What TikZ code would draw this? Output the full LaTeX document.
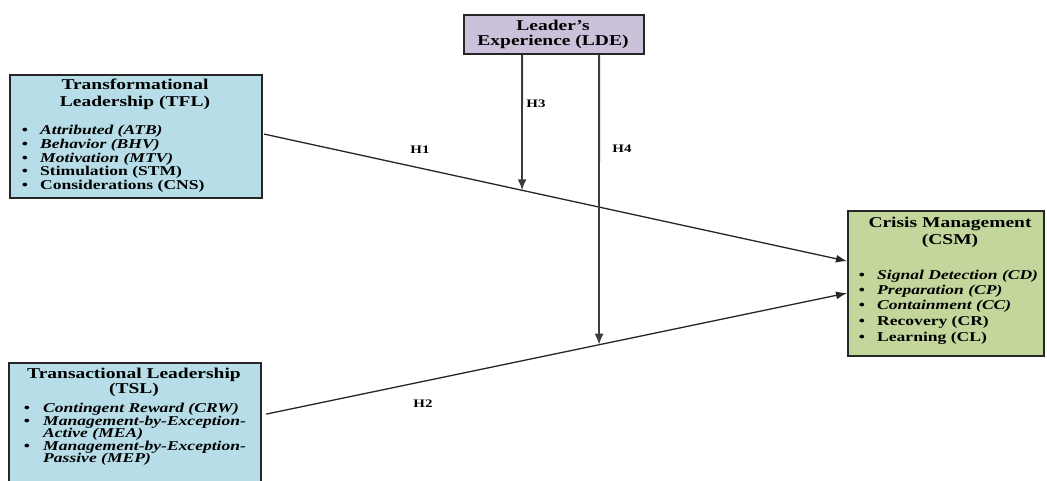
\documentclass[tikz,border=0pt]{standalone}
\usepackage{fontspec}
\setmainfont{Liberation Serif}[FakeStretch=1.3]
\usetikzlibrary{arrows.meta,calc}
\definecolor{tflblue}{HTML}{B7DEE8}
\definecolor{csmgreen}{HTML}{C3D69B}
\definecolor{ldepurple}{HTML}{CCC1DA}
\definecolor{edgec}{HTML}{262626}
\begin{document}
\begin{tikzpicture}[x=1pt,y=-1pt,
  box/.style={draw=edgec,line width=2.2pt,inner sep=0pt,anchor=north west},
  ttl/.style={font=\fontsize{15}{17}\selectfont\bfseries,anchor=mid,inner sep=0pt},
  itm/.style={font=\fontsize{13.5}{15}\selectfont\bfseries,anchor=mid west,inner sep=0pt},
  bul/.style={font=\fontsize{13.5}{15}\selectfont\bfseries,anchor=mid,inner sep=0pt},
  conn/.style={line width=1.3pt,draw=edgec,-{Latex[length=11pt,width=8pt]}},
  vconn/.style={line width=1.8pt,draw=edgec!90,-{Latex[length=11pt,width=9pt]}},
  lbl/.style={font=\fontsize{11.5}{13}\selectfont\bfseries,anchor=mid,inner sep=0pt}]
\useasboundingbox (0,0) rectangle (1047,481);
\fill[white] (0,0) rectangle (1047,481);

% boxes
\node[box,fill=tflblue,minimum width=252pt,minimum height=123pt] (tfl) at (9,74) {};
\node[box,fill=tflblue,minimum width=252pt,minimum height=128pt] (tsl) at (8,362) {};
\node[box,fill=csmgreen,minimum width=196pt,minimum height=145pt] (csm) at (847,210) {};
\node[box,fill=ldepurple,minimum width=180pt,minimum height=39pt] (lde) at (463,14) {};

% TFL text
\node[ttl] (tflt1) at (135,87) {Transformational};
\node[ttl] (tflt2) at (135,104) {Leadership (TFL)};
\foreach \yy/\nm/\tx in {132/a/{\itshape Attributed (ATB)},146/b/{\itshape Behavior (BHV)},160/c/{\itshape Motivation (MTV)},173/d/{Stimulation (STM)},187/e/{Considerations (CNS)}}{
  \node[bul] (tflb\nm) at (25,\yy) {•};
  \node[itm] (tfli\nm) at (40,\yy) {\tx};
}

% TSL text
\node[ttl] (tslt1) at (134,376) {Transactional Leadership};
\node[ttl] (tslt2) at (134,391) {(TSL)};
\node[bul] (tslba) at (27,410) {•};
\node[itm] (tslia) at (43,410) {\itshape Contingent Reward (CRW)};
\node[bul] (tslbb) at (27,423) {•};
\node[itm] (tslib) at (43,423) {\itshape Management-by-Exception-};
\node[itm] (tslib2) at (43,435) {\itshape Active (MEA)};
\node[bul] (tslbc) at (27,448) {•};
\node[itm] (tslic) at (43,448) {\itshape Management-by-Exception-};
\node[itm] (tslic2) at (43,460) {\itshape Passive (MEP)};

% CSM text
\node[ttl] (csmt1) at (950,225) {Crisis Management};
\node[ttl] (csmt2) at (950,242) {(CSM)};
\foreach \yy/\nm/\tx in {277/a/{\itshape Signal Detection (CD)},292/b/{\itshape Preparation (CP)},307/c/{\itshape Containment (CC)},323/d/{Recovery (CR)},339/e/{Learning (CL)}}{
  \node[bul] (csmb\nm) at (862,\yy) {•};
  \node[itm] (csmi\nm) at (877,\yy) {\tx};
}

% LDE text
\node[ttl] (ldet1) at (553,28) {Leader’s};
\node[ttl] (ldet2) at (553,43) {Experience (LDE)};

% connector end points
\coordinate (h1s) at ([xshift=1pt,yshift=2.5pt]tfl.east);
\coordinate (h1e) at ([yshift=22.5pt]csm.west);
\coordinate (h2s) at ([xshift=4pt,yshift=13pt]tsl.east);
\coordinate (h2e) at ([yshift=-9.5pt]csm.west);
\coordinate (h3s) at ([xshift=-32pt]lde.south);
\coordinate (h4s) at ([xshift=45pt]lde.south);
\coordinate (h3x) at ([yshift=-400pt]h3s);
\coordinate (h4x) at ([yshift=-400pt]h4s);
\coordinate (h3e) at (intersection of h1s--h1e and h3s--h3x);
\coordinate (h4e) at (intersection of h2s--h2e and h4s--h4x);

\draw[conn] (h1s) -- (h1e);
\draw[conn] (h2s) -- (h2e);
\draw[vconn] (h3s) -- (h3e);
\draw[vconn] (h4s) -- (h4e);

% labels
\node[lbl] (l1) at (420,151) {H1};
\node[lbl] (l2) at (423,405) {H2};
\node[lbl] (l3) at (536,105) {H3};
\node[lbl] (l4) at (622,150) {H4};
\end{tikzpicture}
\end{document}
